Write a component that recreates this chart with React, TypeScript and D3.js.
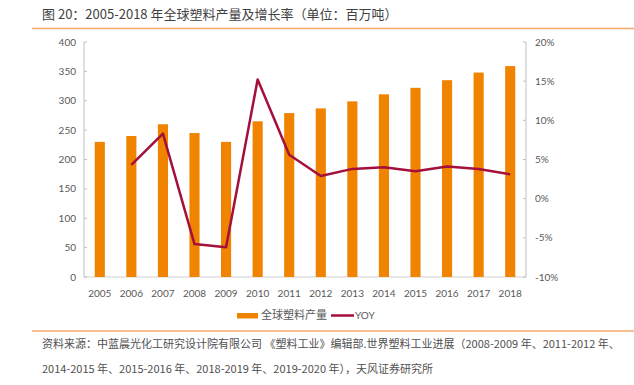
import React from 'react'
import * as d3 from 'd3'

const YEARS = ['2005', '2006', '2007', '2008', '2009', '2010', '2011', '2012', '2013', '2014', '2015', '2016', '2017', '2018']
const OUTPUT = [230, 240, 260, 245, 230, 265, 279, 287, 299, 311, 322, 335, 348, 359]
// YOY starts at 2006
const YOY = [null, 4.3, 8.3, -5.8, -6.2, 15.2, 5.6, 2.9, 3.8, 4.0, 3.5, 4.1, 3.8, 3.1]
const LEFT_TICKS = [0, 50, 100, 150, 200, 250, 300, 350, 400]
const RIGHT_TICKS = [-10, -5, 0, 5, 10, 15, 20]

const TITLE = '图 20：2005-2018 年全球塑料产量及增长率（单位：百万吨）'
const NOTE1 = '资料来源：中蓝晨光化工研究设计院有限公司 《塑料工业》编辑部.世界塑料工业进展（2008-2009 年、2011-2012 年、'
const NOTE2 = '2014-2015 年、2015-2016 年、2018-2019 年、2019-2020 年），天风证券研究所'

const FONT = 'Lato, "Noto Sans CJK SC", sans-serif'
const CJK = '"Noto Sans CJK SC", sans-serif'
const BAR = '#f08300'
const LINE = '#a50f3c'
const RULE = '#f4a86a'

export default function App() {
  const left = 84
  const right = 526
  const top = 42
  const bottom = 277

  const x = d3.scaleBand<string>().domain(YEARS).range([left, right]).paddingInner(0.68).paddingOuter(0.34)
  const yL = d3.scaleLinear().domain([0, 400]).range([bottom, top])
  const yR = d3.scaleLinear().domain([-10, 20]).range([bottom, top])

  const pts = YEARS.map((yr, i) => ({ yr, v: YOY[i] })).filter((d) => d.v !== null) as { yr: string; v: number }[]
  const line = d3
    .line<{ yr: string; v: number }>()
    .x((d) => (x(d.yr) ?? 0) + x.bandwidth() / 2)
    .y((d) => yR(d.v))

  return (
    <div style={{ position: 'absolute', left: 0, top: 0 }}>
      <svg width={634} height={385} style={{ display: 'block', fontFamily: FONT }}>
        <rect width={634} height={385} fill="#fff" />
        <text x={42} y={14} dy="0.35em" fontSize={13} fill="#3f3f3f" fontFamily={CJK}>
          {TITLE}
        </text>
        <line x1={32} x2={634} y1={28.5} y2={28.5} stroke={RULE} strokeWidth={1.5} />

        {/* axes */}
        <line x1={left} x2={left} y1={top} y2={bottom} stroke="#bfbfbf" />
        <line x1={right} x2={right} y1={top} y2={bottom} stroke="#bfbfbf" />
        <line x1={left} x2={right} y1={bottom} y2={bottom} stroke="#d0d0d0" />
        {LEFT_TICKS.map((t) => (
          <g key={'l' + t}>
            <line x1={left} x2={left + 3} y1={yL(t)} y2={yL(t)} stroke="#bfbfbf" />
            <text x={76} y={yL(t)} dy="0.35em" textAnchor="end" fontSize={10} fill="#595959">
              {t}
            </text>
          </g>
        ))}
        {RIGHT_TICKS.map((t) => (
          <g key={'r' + t}>
            <line x1={right - 3} x2={right} y1={yR(t)} y2={yR(t)} stroke="#bfbfbf" />
            <text x={535} y={yR(t)} dy="0.35em" fontSize={10} fill="#595959">
              {t}%
            </text>
          </g>
        ))}
        {YEARS.map((yr) => (
          <text key={yr} x={(x(yr) ?? 0) + x.bandwidth() / 2} y={293} dy="0.35em" textAnchor="middle" fontSize={10} fill="#595959">
            {yr}
          </text>
        ))}

        {/* bars */}
        {YEARS.map((yr, i) => (
          <rect key={'b' + yr} x={x(yr)} y={yL(OUTPUT[i])} width={x.bandwidth()} height={bottom - yL(OUTPUT[i])} fill={BAR} />
        ))}

        {/* yoy line */}
        <path d={line(pts) ?? ''} fill="none" stroke={LINE} strokeWidth={2.5} strokeLinejoin="round" />

        {/* legend */}
        <rect x={237} y={313} width={21} height={5.5} fill={BAR} />
        <text x={261} y={315.5} dy="0.35em" fontSize={11} fill="#595959">
          全球塑料产量
        </text>
        <line x1={331} x2={354} y1={315.5} y2={315.5} stroke={LINE} strokeWidth={2.5} />
        <text x={355} y={315.5} dy="0.35em" fontSize={10} fill="#595959">
          YOY
        </text>

        {/* source */}
        <line x1={32} x2={634} y1={331} y2={331} stroke={RULE} strokeWidth={1.5} />
        <text x={42} y={344} dy="0.35em" fontSize={11} fill="#505050" fontFamily={CJK}>
          {NOTE1}
        </text>
        <text x={42} y={369} dy="0.35em" fontSize={11} fill="#505050" fontFamily={CJK}>
          {NOTE2}
        </text>
      </svg>
    </div>
  )
}
